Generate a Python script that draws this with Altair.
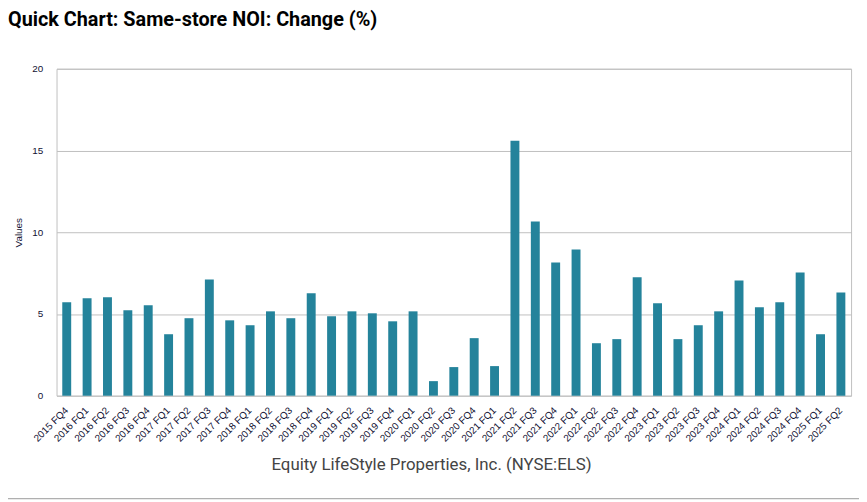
import altair as alt
import pandas as pd

quarters = [
    "2015 FQ4",
    "2016 FQ1", "2016 FQ2", "2016 FQ3", "2016 FQ4",
    "2017 FQ1", "2017 FQ2", "2017 FQ3", "2017 FQ4",
    "2018 FQ1", "2018 FQ2", "2018 FQ3", "2018 FQ4",
    "2019 FQ1", "2019 FQ2", "2019 FQ3", "2019 FQ4",
    "2020 FQ1", "2020 FQ2", "2020 FQ3", "2020 FQ4",
    "2021 FQ1", "2021 FQ2", "2021 FQ3", "2021 FQ4",
    "2022 FQ1", "2022 FQ2", "2022 FQ3", "2022 FQ4",
    "2023 FQ1", "2023 FQ2", "2023 FQ3", "2023 FQ4",
    "2024 FQ1", "2024 FQ2", "2024 FQ3", "2024 FQ4",
    "2025 FQ1", "2025 FQ2",
]
noi_change = [
    5.71, 5.96, 6.02, 5.22, 5.53, 3.76, 4.74, 7.11, 4.61, 4.31,
    5.16, 4.74, 6.26, 4.86, 5.16, 5.04, 4.55, 5.16, 0.89, 1.75,
    3.52, 1.81, 15.59, 10.65, 8.15, 8.94, 3.21, 3.46, 7.24, 5.65,
    3.46, 4.31, 5.16, 7.05, 5.41, 5.71, 7.54, 3.76, 6.32,
]
y_ticks = [0, 5, 10, 15, 20]

df = pd.DataFrame({"quarter": quarters, "value": noi_change})

W, H = 802, 330

bars = alt.Chart(df).mark_bar(size=9, color="#24839b").encode(
    x=alt.X(
        "quarter:N",
        sort=None,
        scale=alt.Scale(paddingInner=0, paddingOuter=0),
        axis=alt.Axis(
            title="Equity LifeStyle Properties, Inc. (NYSE:ELS)",
            titleFont="Roboto",
            titleFontSize=17,
            titleFontWeight="normal",
            titleColor="#444444",
            titleX=378,
            titleY=75,
            titleBaseline="alphabetic",
            titleAlign="center",
            labelAngle=-45,
            labelAlign="right",
            labelBaseline="middle",
            labelFont="Liberation Sans",
            labelFontSize=10,
            labelColor="#111133",
            labelPadding=13,
            ticks=False,
            domain=False,
        ),
    ),
    y=alt.Y(
        "value:Q",
        scale=alt.Scale(domain=[0, 20], nice=False),
        axis=alt.Axis(
            title="Values",
            values=y_ticks,
            titleFont="Liberation Sans",
            titleFontSize=10,
            titleFontWeight="normal",
            titleColor="#111133",
            titleX=-35,
            titleY=165,
            titleAngle=-90,
            titleAlign="center",
            titleBaseline="alphabetic",
            labelFont="Liberation Sans",
            labelFontSize=10,
            labelColor="#111133",
            labelPadding=14,
            ticks=False,
            domain=False,
            gridColor="#bfbfbf",
            gridWidth=1,
        ),
    ),
)

bottom_line = alt.Chart(df).mark_rule(color="#999999", strokeWidth=1).encode(
    x=alt.value(-49), x2=alt.value(810), y=alt.value(434)
).transform_filter(alt.datum.quarter == "2015 FQ4")

chart = alt.layer(bars, bottom_line).properties(
    width=W,
    height=H,
    autosize=alt.AutoSizeParams(type="none"),
    padding={"left": 49, "top": 59, "right": 8, "bottom": 107},
    title=alt.TitleParams(
        "Quick Chart: Same-store NOI: Change (%)",
        anchor="start",
        frame="group",
        dx=-49,
        offset=34,
        font="Roboto",
        fontSize=20,
        fontWeight="bold",
        color="#000000",
    ),
).configure_view(stroke="#bfbfbf", strokeWidth=1)

chart.save("out.html", embed_options={"renderer": "svg", "actions": False})
